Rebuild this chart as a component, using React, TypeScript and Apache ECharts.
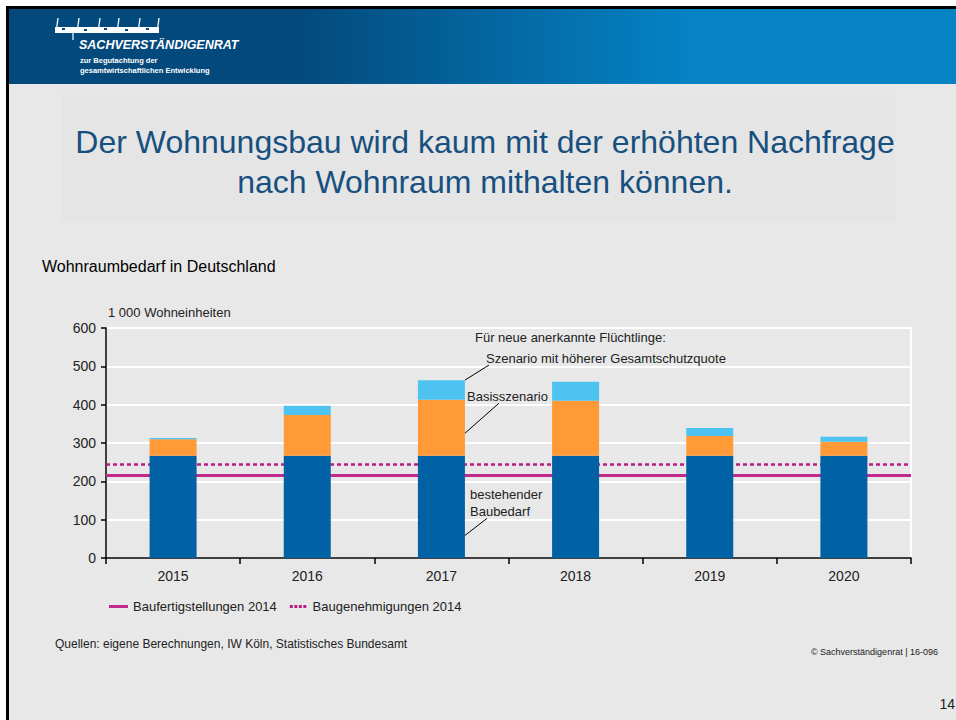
import React, { useEffect, useRef } from "react";
import * as echarts from "echarts";

const categories = ["2015", "2016", "2017", "2018", "2019", "2020"];
const bestehenderBaubedarf = [267, 267, 267, 267, 267, 267];
const basisszenario = [43, 106, 146, 143, 51, 36];
const hoehereSchutzquote = [3, 24, 51, 50, 21, 13];
const baufertigstellungen2014 = 215;
const baugenehmigungen2014 = 245;
const yMin = 0;
const yMax = 600;
const yInterval = 100;

const FONT = "'Liberation Sans', Arial, sans-serif";
const BAR_W = 47;

export default function App() {
  const ref = useRef<HTMLDivElement>(null);
  useEffect(() => {
    document.body.style.margin = "0";
    document.body.style.background = "#ffffff";
    const chart = echarts.init(ref.current!, null, { renderer: "svg" });
    const textC = "#222222";
    const slant = (x: number, id: string) => ({
      id,
      type: "line",
      shape: { x1: x, y1: 33, x2: x + 2, y2: 18 },
      style: { stroke: "#fff", lineWidth: 1.3 },
    });
    const option: any = {
      animation: false,
      backgroundColor: "transparent",
      textStyle: { fontFamily: FONT },
      grid: {
        left: 106,
        right: 45,
        top: 328,
        bottom: 162,
        show: true,
        borderColor: "#ffffff",
        borderWidth: 2,
        backgroundColor: "transparent",
      },
      legend: {
        left: 104,
        top: 595,
        itemWidth: 19,
        itemHeight: 3,
        itemGap: 13,
        data: [
          { name: "Baufertigstellungen 2014", icon: "rect" },
          { name: "Baugenehmigungen 2014", icon: "path://M0,0h3v3h-3z M4.5,0h3v3h-3z M9,0h3v3h-3z M13.5,0h3v3h-3z" },
        ],
        textStyle: { fontFamily: FONT, fontSize: 13, color: textC },
      },
      xAxis: {
        type: "category",
        data: categories,
        boundaryGap: true,
        axisLine: { lineStyle: { color: "#000", width: 1.5 } },
        axisTick: { show: true, length: 6, lineStyle: { color: "#000", width: 1.5 } },
        axisLabel: { fontFamily: FONT, fontSize: 14, color: textC, margin: 11 },
        splitLine: { show: false },
      },
      yAxis: {
        type: "value",
        min: yMin,
        max: yMax,
        interval: yInterval,
        name: "1 000 Wohneinheiten",
        nameLocation: "end",
        nameGap: 9,
        nameTextStyle: { fontFamily: FONT, fontSize: 13, color: textC, align: "left", padding: [0, 0, 0, 2] },
        axisLine: { show: true, lineStyle: { color: "#000", width: 1.5 } },
        axisTick: { show: true, length: 5, lineStyle: { color: "#000", width: 1.5 } },
        axisLabel: { fontFamily: FONT, fontSize: 14, color: textC, margin: 10 },
        splitLine: { show: true, lineStyle: { color: "#ffffff", width: 2 } },
      },
      series: [
        {
          name: "Baufertigstellungen 2014",
          type: "line",
          data: [],
          symbol: "none",
          itemStyle: { color: "#c12a8c" },
          lineStyle: { color: "#c12a8c", width: 3 },
          markLine: {
            silent: true,
            z: 1,
            symbol: "none",
            label: { show: false },
            lineStyle: { color: "#c12a8c", width: 3, type: "solid" },
            data: [{ yAxis: baufertigstellungen2014 }],
          },
          z: 1,
        },
        {
          name: "Baugenehmigungen 2014",
          type: "line",
          data: [],
          symbol: "none",
          itemStyle: { color: "#b91d86" },
          lineStyle: { color: "#b91d86", width: 3, type: [4, 3] },
          markLine: {
            silent: true,
            z: 1,
            symbol: "none",
            label: { show: false },
            lineStyle: { color: "#b91d86", width: 2.5, type: [4, 3] },
            data: [{ yAxis: baugenehmigungen2014 }],
          },
          z: 1,
        },
        {
          name: "bestehender Baubedarf",
          type: "bar",
          stack: "a",
          barWidth: BAR_W,
          itemStyle: { color: "#0061a5" },
          data: bestehenderBaubedarf,
          z: 4,
        },
        {
          name: "Basisszenario",
          type: "bar",
          stack: "a",
          barWidth: BAR_W,
          itemStyle: { color: "#ff9a36" },
          data: basisszenario,
          z: 4,
        },
        {
          name: "Szenario mit höherer Gesamtschutzquote",
          type: "bar",
          stack: "a",
          barWidth: BAR_W,
          itemStyle: { color: "#4ec3f1" },
          data: hoehereSchutzquote,
          z: 4,
        },
      ],
      graphic: [
        { id: "frame", type: "rect", shape: { x: 6, y: 6, width: 950, height: 714 }, style: { fill: "#000" }, z: -20 },
        { id: "bg", type: "rect", shape: { x: 9, y: 9, width: 947, height: 711 }, style: { fill: "#e8e8e8" }, z: -19 },
        {
          id: "header",
          type: "rect",
          shape: { x: 9, y: 9, width: 947, height: 75 },
          style: {
            fill: new echarts.graphic.LinearGradient(0, 0, 1, 0, [
              { offset: 0, color: "#03497b" },
              { offset: 0.3, color: "#03497b" },
              { offset: 0.72, color: "#0583c5" },
              { offset: 1, color: "#0583c5" },
            ]),
          },
          z: -18,
        },
        { id: "titlebox", type: "rect", shape: { x: 62, y: 95, width: 833, height: 127 }, style: { fill: "#e5e5e5" }, z: -17 },
        // logo pattern
        { id: "lgbar", type: "rect", shape: { x: 55, y: 27, width: 104, height: 6 }, style: { fill: "#fff" } },
        { id: "lgg1", type: "rect", shape: { x: 62, y: 28, width: 3, height: 2 }, style: { fill: "#03497b" } },
        { id: "lgg2", type: "rect", shape: { x: 84, y: 29, width: 3, height: 2 }, style: { fill: "#03497b" } },
        { id: "lgg3", type: "rect", shape: { x: 104, y: 28, width: 3, height: 2 }, style: { fill: "#03497b" } },
        { id: "lgg4", type: "rect", shape: { x: 125, y: 29, width: 3, height: 2 }, style: { fill: "#03497b" } },
        { id: "lgg5", type: "rect", shape: { x: 146, y: 28, width: 3, height: 2 }, style: { fill: "#03497b" } },
        slant(56, "lgs1"),
        slant(77, "lgs2"),
        slant(98, "lgs3"),
        slant(117, "lgs4"),
        slant(138, "lgs5"),
        slant(157, "lgs6"),
        { id: "lgv", type: "line", shape: { x1: 73, y1: 33, x2: 73, y2: 40 }, style: { stroke: "#fff", lineWidth: 1.2 } },
        {
          id: "svr",
          type: "text",
          x: 79,
          y: 38,
          style: { text: "SACHVERSTÄNDIGENRAT", fill: "#fff", font: `italic bold 12.5px ${FONT}` },
        },
        {
          id: "svr2",
          type: "text",
          x: 80,
          y: 56,
          style: { text: "zur Begutachtung der", fill: "#fff", font: `bold 7.5px ${FONT}` },
        },
        {
          id: "svr3",
          type: "text",
          x: 80,
          y: 66,
          style: { text: "gesamtwirtschaftlichen Entwicklung", fill: "#fff", font: `bold 7.5px ${FONT}` },
        },
        {
          id: "title",
          type: "text",
          x: 485,
          y: 162,
          style: {
            text: "Der Wohnungsbau wird kaum mit der erhöhten Nachfrage\nnach Wohnraum mithalten können.",
            fill: "#17507f",
            font: `32px ${FONT}`,
            align: "center",
            verticalAlign: "middle",
            lineHeight: 40,
          },
        },
        {
          id: "sub",
          type: "text",
          x: 42,
          y: 266,
          style: { text: "Wohnraumbedarf in Deutschland", fill: "#000", font: `16px ${FONT}`, verticalAlign: "middle" },
        },
        {
          id: "ann0",
          type: "text",
          x: 475,
          y: 337,
          style: { text: "Für neue anerkannte Flüchtlinge:", fill: textC, font: `13px ${FONT}`, verticalAlign: "middle" },
        },
        {
          id: "ann1",
          type: "text",
          x: 486,
          y: 358,
          style: { text: "Szenario mit höherer Gesamtschutzquote", fill: textC, font: `13px ${FONT}`, verticalAlign: "middle" },
        },
        {
          id: "ann2",
          type: "text",
          x: 467,
          y: 396,
          style: { text: "Basisszenario", fill: textC, font: `13px ${FONT}`, verticalAlign: "middle" },
        },
        {
          id: "ann3",
          type: "text",
          x: 470,
          y: 503,
          style: { text: "bestehender\nBaubedarf", fill: textC, font: `13px ${FONT}`, verticalAlign: "middle", lineHeight: 17 },
        },
        {
          id: "src",
          type: "text",
          x: 55,
          y: 644,
          style: {
            text: "Quellen: eigene Berechnungen, IW Köln, Statistisches Bundesamt",
            fill: textC,
            font: `12px ${FONT}`,
            verticalAlign: "middle",
          },
        },
        {
          id: "copy",
          type: "text",
          x: 938,
          y: 652,
          style: { text: "© Sachverständigenrat | 16-096", fill: textC, font: `9px ${FONT}`, align: "right", verticalAlign: "middle" },
        },
        {
          id: "page",
          type: "text",
          x: 955,
          y: 704,
          style: { text: "14", fill: textC, font: `14px ${FONT}`, align: "right", verticalAlign: "middle" },
        },
      ],
    };
    chart.setOption(option);

    // leader lines anchored to the 2017 bar via the chart's own scales
    const cx = chart.convertToPixel({ xAxisIndex: 0 }, "2017") as number;
    const right = cx + BAR_W / 2;
    const i17 = categories.indexOf("2017");
    const topAll = bestehenderBaubedarf[i17] + basisszenario[i17] + hoehereSchutzquote[i17];
    const midBasis = bestehenderBaubedarf[i17] + basisszenario[i17] * 0.4;
    const lowBase = bestehenderBaubedarf[i17] * 0.22;
    const yTop = chart.convertToPixel({ yAxisIndex: 0 }, topAll) as number;
    const yMid = chart.convertToPixel({ yAxisIndex: 0 }, midBasis) as number;
    const yLow = chart.convertToPixel({ yAxisIndex: 0 }, lowBase) as number;
    const ls = { stroke: "#000", lineWidth: 1 };
    chart.setOption({
      graphic: [
        { id: "l1", type: "line", shape: { x1: right, y1: yTop, x2: right + 24, y2: yTop - 15 }, style: ls, z: 10 },
        { id: "l2", type: "line", shape: { x1: right, y1: yMid, x2: right + 34, y2: yMid - 30 }, style: ls, z: 10 },
        { id: "l3", type: "line", shape: { x1: right, y1: yLow, x2: right + 22, y2: yLow - 17 }, style: ls, z: 10 },
      ],
    });

    return () => chart.dispose();
  }, []);
  return <div ref={ref} style={{ width: 956, height: 720 }} />;
}
